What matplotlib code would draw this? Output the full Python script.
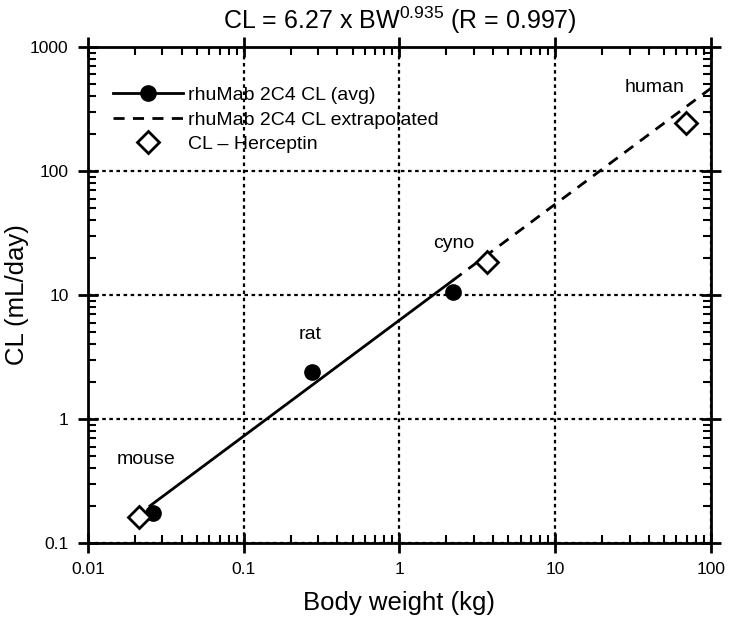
import numpy as np
import matplotlib.pyplot as plt

plt.rcParams['font.family'] = ['Liberation Sans', 'DejaVu Sans']
plt.rcParams['mathtext.default'] = 'regular'

# rhuMab 2C4 average clearance (mouse, rat, cyno)
bw_2c4 = [0.026, 0.275, 2.22]
cl_2c4 = [0.175, 2.39, 10.6]

# Herceptin clearance (mouse, cyno, human)
bw_her = [0.0214, 3.64, 69.3]
cl_her = [0.162, 18.5, 245]

# allometric fit CL = a * BW^b
fit_a = 6.27
fit_b = 0.935
fit_solid_bw = [0.025, 2.2]
fit_dash_bw = [2.2, 100]

species = ['mouse', 'rat', 'cyno', 'human']
label_x = [0.0237, 0.265, 2.23, 43.6]
label_y = [0.475, 4.84, 26.2, 475]

fig = plt.figure(figsize=(7.3, 6.29), dpi=100)
ax = fig.add_axes([0.1205, 0.1367, 0.8534, 0.7886])
ax.set_xscale('log')
ax.set_yscale('log')

xs = np.array(fit_solid_bw)
xd = np.array(fit_dash_bw)
ax.plot(xs, fit_a * xs ** fit_b, color='black', lw=2)
ax.plot(xd, fit_a * xd ** fit_b, color='black', lw=2, ls=(0, (4, 3)))
ax.plot(bw_2c4, cl_2c4, 'o', color='black', ms=11, zorder=3)
ax.plot(bw_her, cl_her, 'D', mfc='white', mec='black', mew=2, ms=11, zorder=3)

for name, x, y in zip(species, label_x, label_y):
    ax.text(x, y, name, ha='center', va='center', fontsize=14)

# legend entries
h1, = ax.plot([], [], '-o', color='black', lw=2, ms=11)
h2, = ax.plot([], [], color='black', lw=2, ls=(0, (4, 3)))
h3, = ax.plot([], [], 'D', mfc='white', mec='black', mew=2, ms=11, ls='none')
ax.legend([h1, h2, h3], ['rhuMab 2C4 CL (avg)', 'rhuMab 2C4 CL extrapolated', 'CL – Herceptin'],
          loc='upper left', bbox_to_anchor=(0.028, 0.936), borderaxespad=0,
          frameon=False, fontsize=14, handlelength=3.6,
          handletextpad=0.25, labelspacing=0.35)

ax.set_xlim(0.01, 100)
ax.set_ylim(0.1, 1000)
ax.set_xticks([0.01, 0.1, 1, 10, 100])
ax.set_xticklabels(['0.01', '0.1', '1', '10', '100'])
ax.set_yticks([0.1, 1, 10, 100, 1000])
ax.set_yticklabels(['0.1', '1', '10', '100', '1000'])
ax.grid(True, which='major', color='black', ls=(0, (1.6, 1.6)), lw=1.6)
ax.tick_params(which='major', direction='inout', length=14, width=2, labelsize=12.5,
               top=True, right=True, pad=7)
ax.tick_params(which='minor', direction='in', length=6, width=1.5, top=True, right=True)
for s in ax.spines.values():
    s.set_linewidth(2)

ax.set_xlabel('Body weight (kg)', fontsize=18.5, labelpad=10)
ax.set_ylabel('CL (mL/day)', fontsize=18.5, labelpad=1)
ax.set_title('CL = 6.27 x BW$^{0.935}$ (R = 0.997)', fontsize=18, pad=13)

fig.savefig('out.png', dpi=100)
